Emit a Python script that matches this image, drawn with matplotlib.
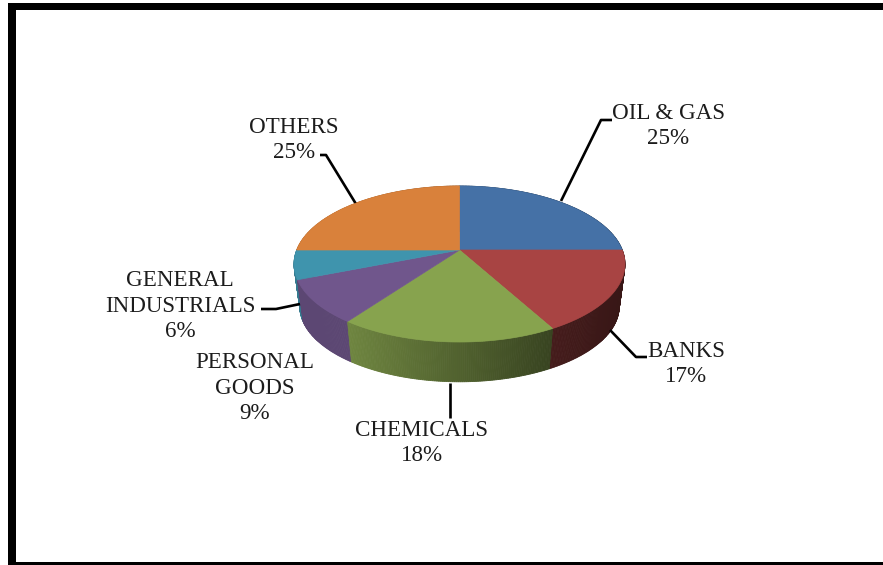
import numpy as np
import matplotlib
matplotlib.use("Agg")
import matplotlib.pyplot as plt
from matplotlib.colors import to_rgb
from matplotlib.patches import Polygon, Rectangle

# Sector shares, clockwise from twelve o'clock
sectors = ["OIL & GAS", "BANKS", "CHEMICALS", "PERSONAL\nGOODS", "GENERAL\nINDUSTRIALS", "OTHERS"]
shares = [25, 17, 18, 9, 6, 25]
top_colors = ["#4571a6", "#a84443", "#87a34e", "#70568c", "#3f94ad", "#d9813b"]

label_centers = [(668, 126), (686, 364), (422, 443), (255, 388), (180, 306), (294, 140)]
leaders = [
    [(561, 201), (601, 120), (612, 120)],
    [(610, 330), (636, 357), (647, 357)],
    [(450, 383), (450, 418)],
    None,
    [(300, 304), (276, 309), (261, 309)],
    [(356, 204), (326, 155), (320, 155)],
]

W, H = 883, 565
CX, CY = 459.5, 250.0
A, B, P = 162.8, 75.5, 0.1795   # perspective of the disc
DEPTH, SHRINK = 43.0, 0.965     # extrusion of the lower rim


def project(theta):
    """Map clockwise angle from twelve o'clock onto the tilted top face."""
    u, v = np.sin(theta), np.cos(theta)
    d = 1 + P * v
    return A * u / d, -B * v / d


def wall_shade(x):
    return np.interp(x, [-165, -112, 95, 165], [0.82, 0.82, 0.41, 0.33])


fig = plt.figure(figsize=(W / 100, H / 100), dpi=100, facecolor="white")
ax = fig.add_axes([0, 0, 1, 1])
ax.set_xlim(0, W)
ax.set_ylim(H, 0)
ax.axis("off")

# Frame on the left, top and bottom
ax.add_patch(Rectangle((8, 3), W - 8, 7, color="black", lw=0))
ax.add_patch(Rectangle((8, 3), 8, H - 3, color="black", lw=0))
ax.add_patch(Rectangle((8, 562), W - 8, 3, color="black", lw=0))

edges = np.cumsum([0] + shares) / sum(shares) * 2 * np.pi

# Outer wall, painted from the back of the disc to the front
quads = []
for i, color in enumerate(top_colors):
    ts = np.linspace(edges[i], edges[i + 1], max(int(shares[i] * 6), 4))
    base = np.array(to_rgb(color))
    for t0, t1 in zip(ts[:-1], ts[1:]):
        x0, y0 = project(t0)
        x1, y1 = project(t1)
        pts = [
            (CX + x0, CY + y0),
            (CX + x1, CY + y1),
            (CX + SHRINK * x1, CY + SHRINK * y1 + DEPTH),
            (CX + SHRINK * x0, CY + SHRINK * y0 + DEPTH),
        ]
        quads.append((-(y0 + y1), pts, base * wall_shade((x0 + x1) / 2)))
for _, pts, shade in sorted(quads, key=lambda q: -q[0]):
    ax.add_patch(Polygon(pts, closed=True, facecolor=shade, edgecolor=shade, lw=0.6))

# Top face
for i, color in enumerate(top_colors):
    ts = np.linspace(edges[i], edges[i + 1], 120)
    xs, ys = project(ts)
    pts = [(CX, CY)] + list(zip(CX + xs, CY + ys))
    ax.add_patch(Polygon(pts, closed=True, facecolor=color, edgecolor=color, lw=0.5, zorder=3))

# Leader lines and labels
for name, share, (lx, ly), leader in zip(sectors, shares, label_centers, leaders):
    if leader is not None:
        px, py = zip(*leader)
        ax.plot(px, py, color="black", lw=1.9, solid_capstyle="butt", zorder=2)
    ax.text(lx, ly, f"{name}\n{share}%", ha="center", va="center", family="Liberation Serif",
            fontsize=16.6, color="#1c1c1c", linespacing=1.29, zorder=4)

fig.savefig("out.png", dpi=100)
